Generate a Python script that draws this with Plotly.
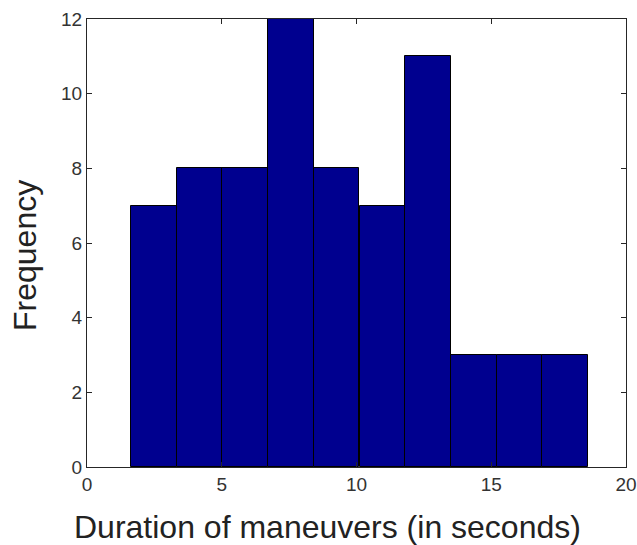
import plotly.graph_objects as go

bin_centers = [2.48, 4.18, 5.87, 7.57, 9.26, 10.96, 12.66, 14.35, 16.05, 17.74]
counts = [7, 8, 8, 12, 8, 7, 11, 3, 3, 3]
bin_width = 1.696
x_ticks = [0, 5, 10, 15, 20]
y_ticks = [0, 2, 4, 6, 8, 10, 12]

fig = go.Figure()
fig.add_trace(go.Bar(
    x=bin_centers, y=counts, width=[bin_width] * len(counts),
    marker=dict(color="#00008F", line=dict(color="#000000", width=1)),
))

axis_common = dict(
    showgrid=False, zeroline=False, showline=True, linecolor="#262626", linewidth=1,
    mirror="ticks", ticks="inside", ticklen=5, tickcolor="#262626", automargin=False,
    ticklabeloverflow="allow",
    tickfont=dict(family="Liberation Sans, Arial", size=19, color="#333333"),
)
title_font = dict(family="Liberation Sans, Arial", size=32, color="#222222")
fig.update_layout(
    width=637, height=545,
    margin=dict(l=87, r=11, t=19, b=78),
    paper_bgcolor="white", plot_bgcolor="white",
    showlegend=False, bargap=0,
    xaxis=dict(range=[0, 20], tickvals=x_ticks, **axis_common),
    yaxis=dict(range=[0, 12], tickvals=y_ticks, **axis_common),
    annotations=[
        dict(text="Duration of maneuvers (in seconds)", xref="paper", yref="paper",
             x=0.5, y=0, xshift=-29, yshift=-60, yanchor="middle", showarrow=False,
             font=title_font),
        dict(text="Frequency", xref="paper", yref="paper", x=0, y=0.5,
             xshift=-62, yshift=-13, xanchor="center", yanchor="middle", textangle=-90,
             showarrow=False, font=title_font),
    ],
)
fig.write_html(
    "out.html",
    config={"displayModeBar": False},
    post_script="document.body.style.margin='0';document.body.style.overflow='hidden';",
)
